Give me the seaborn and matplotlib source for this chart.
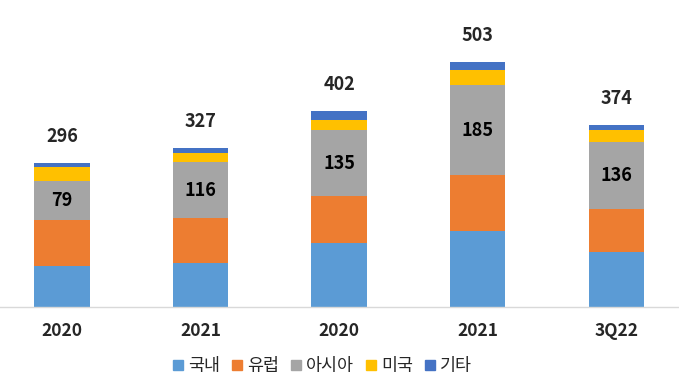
import numpy as np
import pandas as pd
import matplotlib
matplotlib.use("Agg")
import matplotlib.pyplot as plt
from matplotlib.lines import Line2D
import seaborn as sns

# 데이터
periods = ["2020", "2021", "2020", "2021", "3Q22"]
regions = ["국내", "유럽", "아시아", "미국", "기타"]
domestic = [84, 91, 131, 156, 113]
europe = [95, 91, 97, 115, 89]
asia = [79, 116, 135, 185, 136]
usa = [29, 19, 22, 31, 25]
others = [9, 10, 17, 16, 11]
totals = [296, 327, 402, 503, 374]

colors = ["#5B9BD5", "#ED7D31", "#A5A5A5", "#FFC000", "#4472C4"]

sns.set_theme(style="white")
plt.rcParams["font.family"] = ["Noto Sans CJK KR", "DejaVu Sans"]

keys = [f"p{i}" for i in range(len(periods))]
layers = np.array([domestic, europe, asia, usa, others])
cum = np.cumsum(layers, axis=0)

fig = plt.figure(figsize=(6.79, 3.84), dpi=100)
ax = fig.add_axes([0.0, 0.201, 1.0, 0.76])

# 누적 막대: 위쪽 층부터 그려서 아래 층이 덮도록
for i in range(len(regions) - 1, -1, -1):
    df = pd.DataFrame({"period": keys, "value": cum[i]})
    sns.barplot(data=df, x="period", y="value", color=colors[i], width=0.4,
                saturation=1, ax=ax, linewidth=0)

# 아시아 값 레이블
for j, v in enumerate(asia):
    ax.text(j, cum[1][j] + v / 2, f"{v}", ha="center", va="center",
            fontsize=13, fontweight="bold", color="black")

# 합계 레이블
for j, t in enumerate(totals):
    ax.annotate(f"{t}", (j, t), xytext=(0, 19), textcoords="offset points",
                ha="center", va="center", fontsize=13, fontweight="bold")

ax.set_xlim(-0.447, 4.452)
ax.set_ylim(0, 600)
ax.set_xticks(range(len(periods)))
ax.set_xticklabels(periods, fontsize=12.5, fontweight="bold")
ax.tick_params(axis="x", length=0, pad=11)
ax.set_yticks([])
ax.set_xlabel("")
ax.set_ylabel("")
for side in ["top", "right", "left"]:
    ax.spines[side].set_visible(False)
ax.spines["bottom"].set_color("#D9D9D9")
ax.spines["bottom"].set_linewidth(1)

handles = [Line2D([0], [0], marker="s", linestyle="", markersize=7,
                  markerfacecolor=c, markeredgecolor=c) for c in colors]
fig.legend(handles, regions, loc="center", bbox_to_anchor=(0.473, 0.047),
           ncol=5, frameon=False, fontsize=12.5, handletextpad=0.1,
           columnspacing=0.55, handlelength=0.9)

plt.savefig("out.png", dpi=100)
plt.close()
